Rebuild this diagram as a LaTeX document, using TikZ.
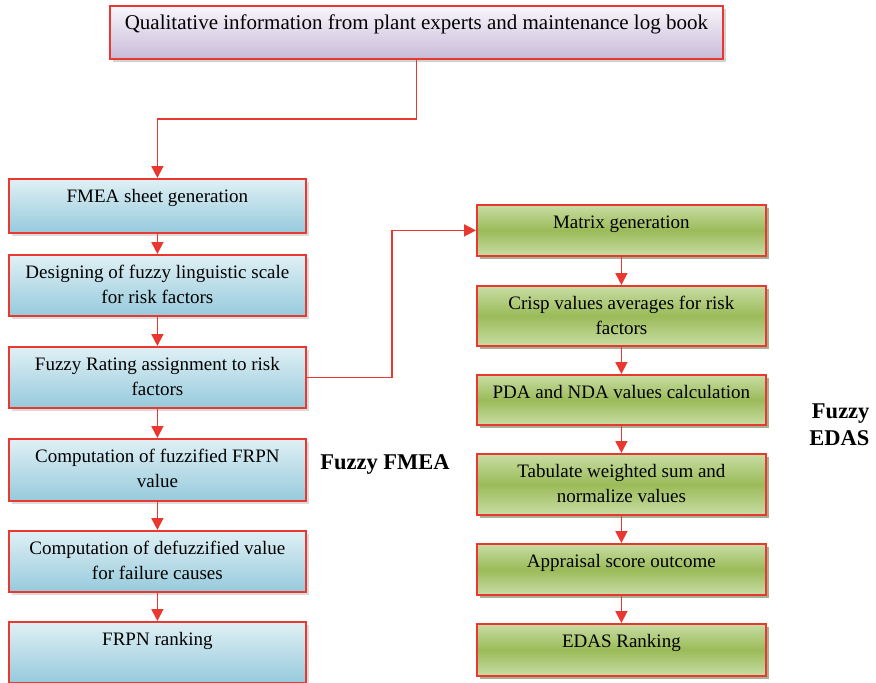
\documentclass[tikz,border=0pt]{standalone}
\usepackage{fontspec}
\setmainfont{Liberation Serif}
\usepackage{tikz}
\usetikzlibrary{arrows.meta,shadows}
\definecolor{edge}{HTML}{E8382F}
\definecolor{lilaclt}{HTML}{F8F6FB}
\definecolor{lilacdk}{HTML}{C8BAD8}
\definecolor{aqualt}{HTML}{E0F0F5}
\definecolor{aquadk}{HTML}{96CADC}
\definecolor{leaflt}{HTML}{C8DDA4}
\definecolor{leafmd}{HTML}{9BBB59}
\definecolor{leafdk}{HTML}{4F6228}
\newcommand{\twolines}[2]{\begin{tabular}[t]{@{}c@{}}#1\\#2\end{tabular}}

\begin{document}
\begin{tikzpicture}[x=1pt,y=-1pt,
  base/.style={rectangle,draw=edge,line width=1.8pt,inner sep=0pt,anchor=north west,align=center,
    font=\fontsize{19}{25}\selectfont,text height=24pt},
  srcbox/.style={base,top color=lilaclt,bottom color=lilacdk,minimum width=613pt,
    font=\fontsize{21}{25}\selectfont,
    drop shadow={shadow xshift=3pt,shadow yshift=-3pt,fill=gray!70}},
  fbox/.style={base,top color=aqualt,bottom color=aquadk,minimum width=297pt,
    drop shadow={shadow xshift=3pt,shadow yshift=-3pt,fill=gray!55}},
  ebox/.style={base,top color=leaflt,bottom color=leaflt,middle color=leafmd,minimum width=289pt,
    drop shadow={shadow xshift=3pt,shadow yshift=-3pt,fill=leafdk}},
  arr/.style={-{Triangle[length=12pt,width=12pt]},line width=1.8pt,edge},
  tag/.style={font=\fontsize{22.5}{27}\selectfont\bfseries}]
\useasboundingbox (0,0) rectangle (876,683);
\node[srcbox,text height=24pt,text depth=29pt] (src) at (109,5) {Qualitative information from plant experts and maintenance log book};
% fuzzy FMEA column
\node[fbox,text depth=30pt] (sheet) at (8,178) {FMEA sheet generation};
\node[fbox,text depth=37pt] (scale) at (8,254) {\twolines{Designing of fuzzy linguistic scale}{for risk factors}};
\node[fbox,text depth=37pt] (rate) at (8,346) {\twolines{Fuzzy Rating assignment to risk}{factors}};
\node[fbox,text depth=38pt] (frpn) at (8,438) {\twolines{Computation of fuzzified FRPN}{value}};
\node[fbox,text depth=37pt] (defz) at (8,530) {\twolines{Computation of defuzzified value}{for failure causes}};
\node[fbox,text depth=37pt] (frank) at (8,621) {FRPN ranking};
% fuzzy EDAS column
\node[ebox,text depth=27pt] (mat) at (476,204) {Matrix generation};
\node[ebox,text depth=36pt] (crisp) at (476,285) {\twolines{Crisp values averages for risk}{factors}};
\node[ebox,text depth=26pt] (pda) at (476,374) {PDA and NDA values calculation};
\node[ebox,text depth=37pt] (tab) at (476,453) {\twolines{Tabulate weighted sum and}{normalize values}};
\node[ebox,text depth=27pt] (score) at (476,543) {Appraisal score outcome};
\node[ebox,text depth=28pt] (erank) at (476,623) {EDAS Ranking};
% side labels
\node[tag] (fmea) at (385,464) {Fuzzy FMEA};
\node[tag,align=right,anchor=east] (edas) at (873,425) {Fuzzy\\EDAS};
% connectors
\draw[arr] (src.south) -- ++(0,59) -| (sheet.north);
\foreach \a/\b in {sheet/scale,scale/rate,rate/frpn,frpn/defz,defz/frank,mat/crisp,crisp/pda,pda/tab,tab/score,score/erank}
  \draw[arr] (\a) -- (\b);
\draw[arr] (rate.east) -- ++(85,0) |- (mat.west);
\end{tikzpicture}
\end{document}
